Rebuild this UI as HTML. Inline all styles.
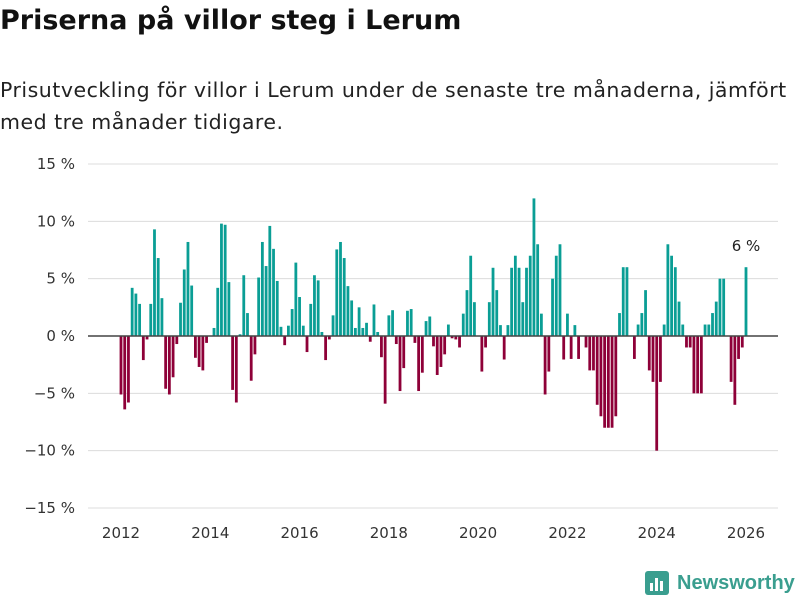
<!DOCTYPE html>
<html><head><meta charset="utf-8"><style>
body{margin:0;background:#fff;width:800px;height:600px;overflow:hidden;font-family:"DejaVu Sans","Liberation Sans",sans-serif;}
h1{position:absolute;left:0;top:5px;margin:0;font-size:27px;font-weight:bold;color:#111;white-space:nowrap;}
p{position:absolute;left:0;top:74px;margin:0;font-size:20.5px;line-height:32px;color:#222;white-space:nowrap;letter-spacing:0.5px;}
svg{position:absolute;left:0;top:0;}
</style></head><body>
<h1>Priserna på villor steg i Lerum</h1>
<p>Prisutveckling för villor i Lerum under de senaste tre månaderna, jämfört<br>med tre månader tidigare.</p>
<svg id="c" width="800" height="600"></svg>
<script>
const yTicks=[15,10,5,0,-5,-10,-15];
const yTickLabels=["15 %","10 %","5 %","0 %","−5 %","−10 %","−15 %"];
const xYears=[2012,2014,2016,2018,2020,2022,2024,2026];
const startYear=2012;
const values=[-5.1,-6.4,-5.8,4.2,3.7,2.8,-2.1,-0.3,2.8,9.3,6.8,3.3,-4.6,-5.1,-3.6,-0.7,2.9,5.8,8.2,4.4,-1.9,-2.7,-3.0,-0.6,0,0.7,4.2,9.8,9.7,4.7,-4.7,-5.8,0.15,5.3,2.0,-3.9,-1.6,5.1,8.2,6.1,9.6,7.6,4.8,0.8,-0.8,0.9,
2.35,6.4,3.4,0.9,-1.4,2.8,5.3,4.85,0.35,-2.1,-0.3,1.8,7.55,8.2,6.8,4.35,3.1,0.7,2.5,0.7,1.15,-0.5,2.75,0.35,-1.85,-5.9,1.8,2.25,-0.7,-4.8,-2.8,2.2,2.35,-0.6,-4.8,-3.2,1.3,1.7,-0.9,-3.4,-2.7,-1.6,1.0,-0.2,-0.3,-1.0,1.95,
4.0,7.0,2.95,0,-3.1,-1.0,2.95,5.95,4.0,0.95,-2.05,0.95,5.95,7.0,5.95,2.95,5.95,7.0,12.0,8.0,1.95,-5.1,-3.1,5.0,7.0,8.0,-2.05,1.95,-2,0.95,-2,0,-1,-3,-3,-6,-7,-8,-8,-8,-7,
2,6,6,0,-2,1,2,4,-3,-4,-10,-4,1,8,7,6,3,1,-1,-1,-5,-5,-5,1,1,2,3,5,5,0,-4,-6,-2,-1,6];
const lastLabel="6 %";
const NS="http://www.w3.org/2000/svg";
const svg=document.getElementById('c');
function y(v){return 336-v*(172/15);}
function x(monthIndex){return 121+monthIndex*(625/168);}
function mk(t,a){const e=document.createElementNS(NS,t);for(const k in a)e.setAttribute(k,a[k]);svg.appendChild(e);return e;}
yTicks.forEach((t,i)=>{
 if(t!==0){const l=mk('line',{x1:88,x2:778,y1:y(t),y2:y(t),stroke:'#dcdcdc','stroke-width':1});
 
 }
 const tx=mk('text',{x:75,y:y(t)+5,'text-anchor':'end','font-size':15,fill:'#333'});
 tx.textContent=yTickLabels[i];
 
 
});
xYears.forEach(yr=>{
 const tx=mk('text',{x:x((yr-startYear)*12),y:538,'text-anchor':'middle','font-size':15,fill:'#333'});
 tx.textContent=yr;
 
 
});
values.forEach((v,i)=>{
 const cx=x(i),y0=y(0),y1=y(v);
 const r=mk('rect',{x:cx-1.4,width:2.8,y:Math.min(y0,y1),height:Math.abs(y1-y0),fill:v>=0?'#0a9e95':'#8e0038'});
 
 
});
const zl=mk('line',{x1:88,x2:778,y1:y(0),y2:y(0),stroke:'#444','stroke-width':1.5});


const lb=mk('text',{x:x(values.length-1),y:y(values[values.length-1])-16,'text-anchor':'middle','font-size':15,fill:'#222'});
lb.textContent=lastLabel;


const g=mk('g',{});


g.innerHTML='<rect x="645" y="571" width="24" height="24" rx="3" fill="#3a9e8f"/><rect x="650" y="583" width="3" height="8" fill="#fff"/><rect x="655" y="578" width="3" height="13" fill="#fff"/><rect x="660" y="581" width="3" height="10" fill="#fff"/><text x="677" y="589" font-size="20" font-weight="bold" fill="#3a9e8f" font-family="Liberation Sans, sans-serif">Newsworthy</text>';
</script>
</body></html>
